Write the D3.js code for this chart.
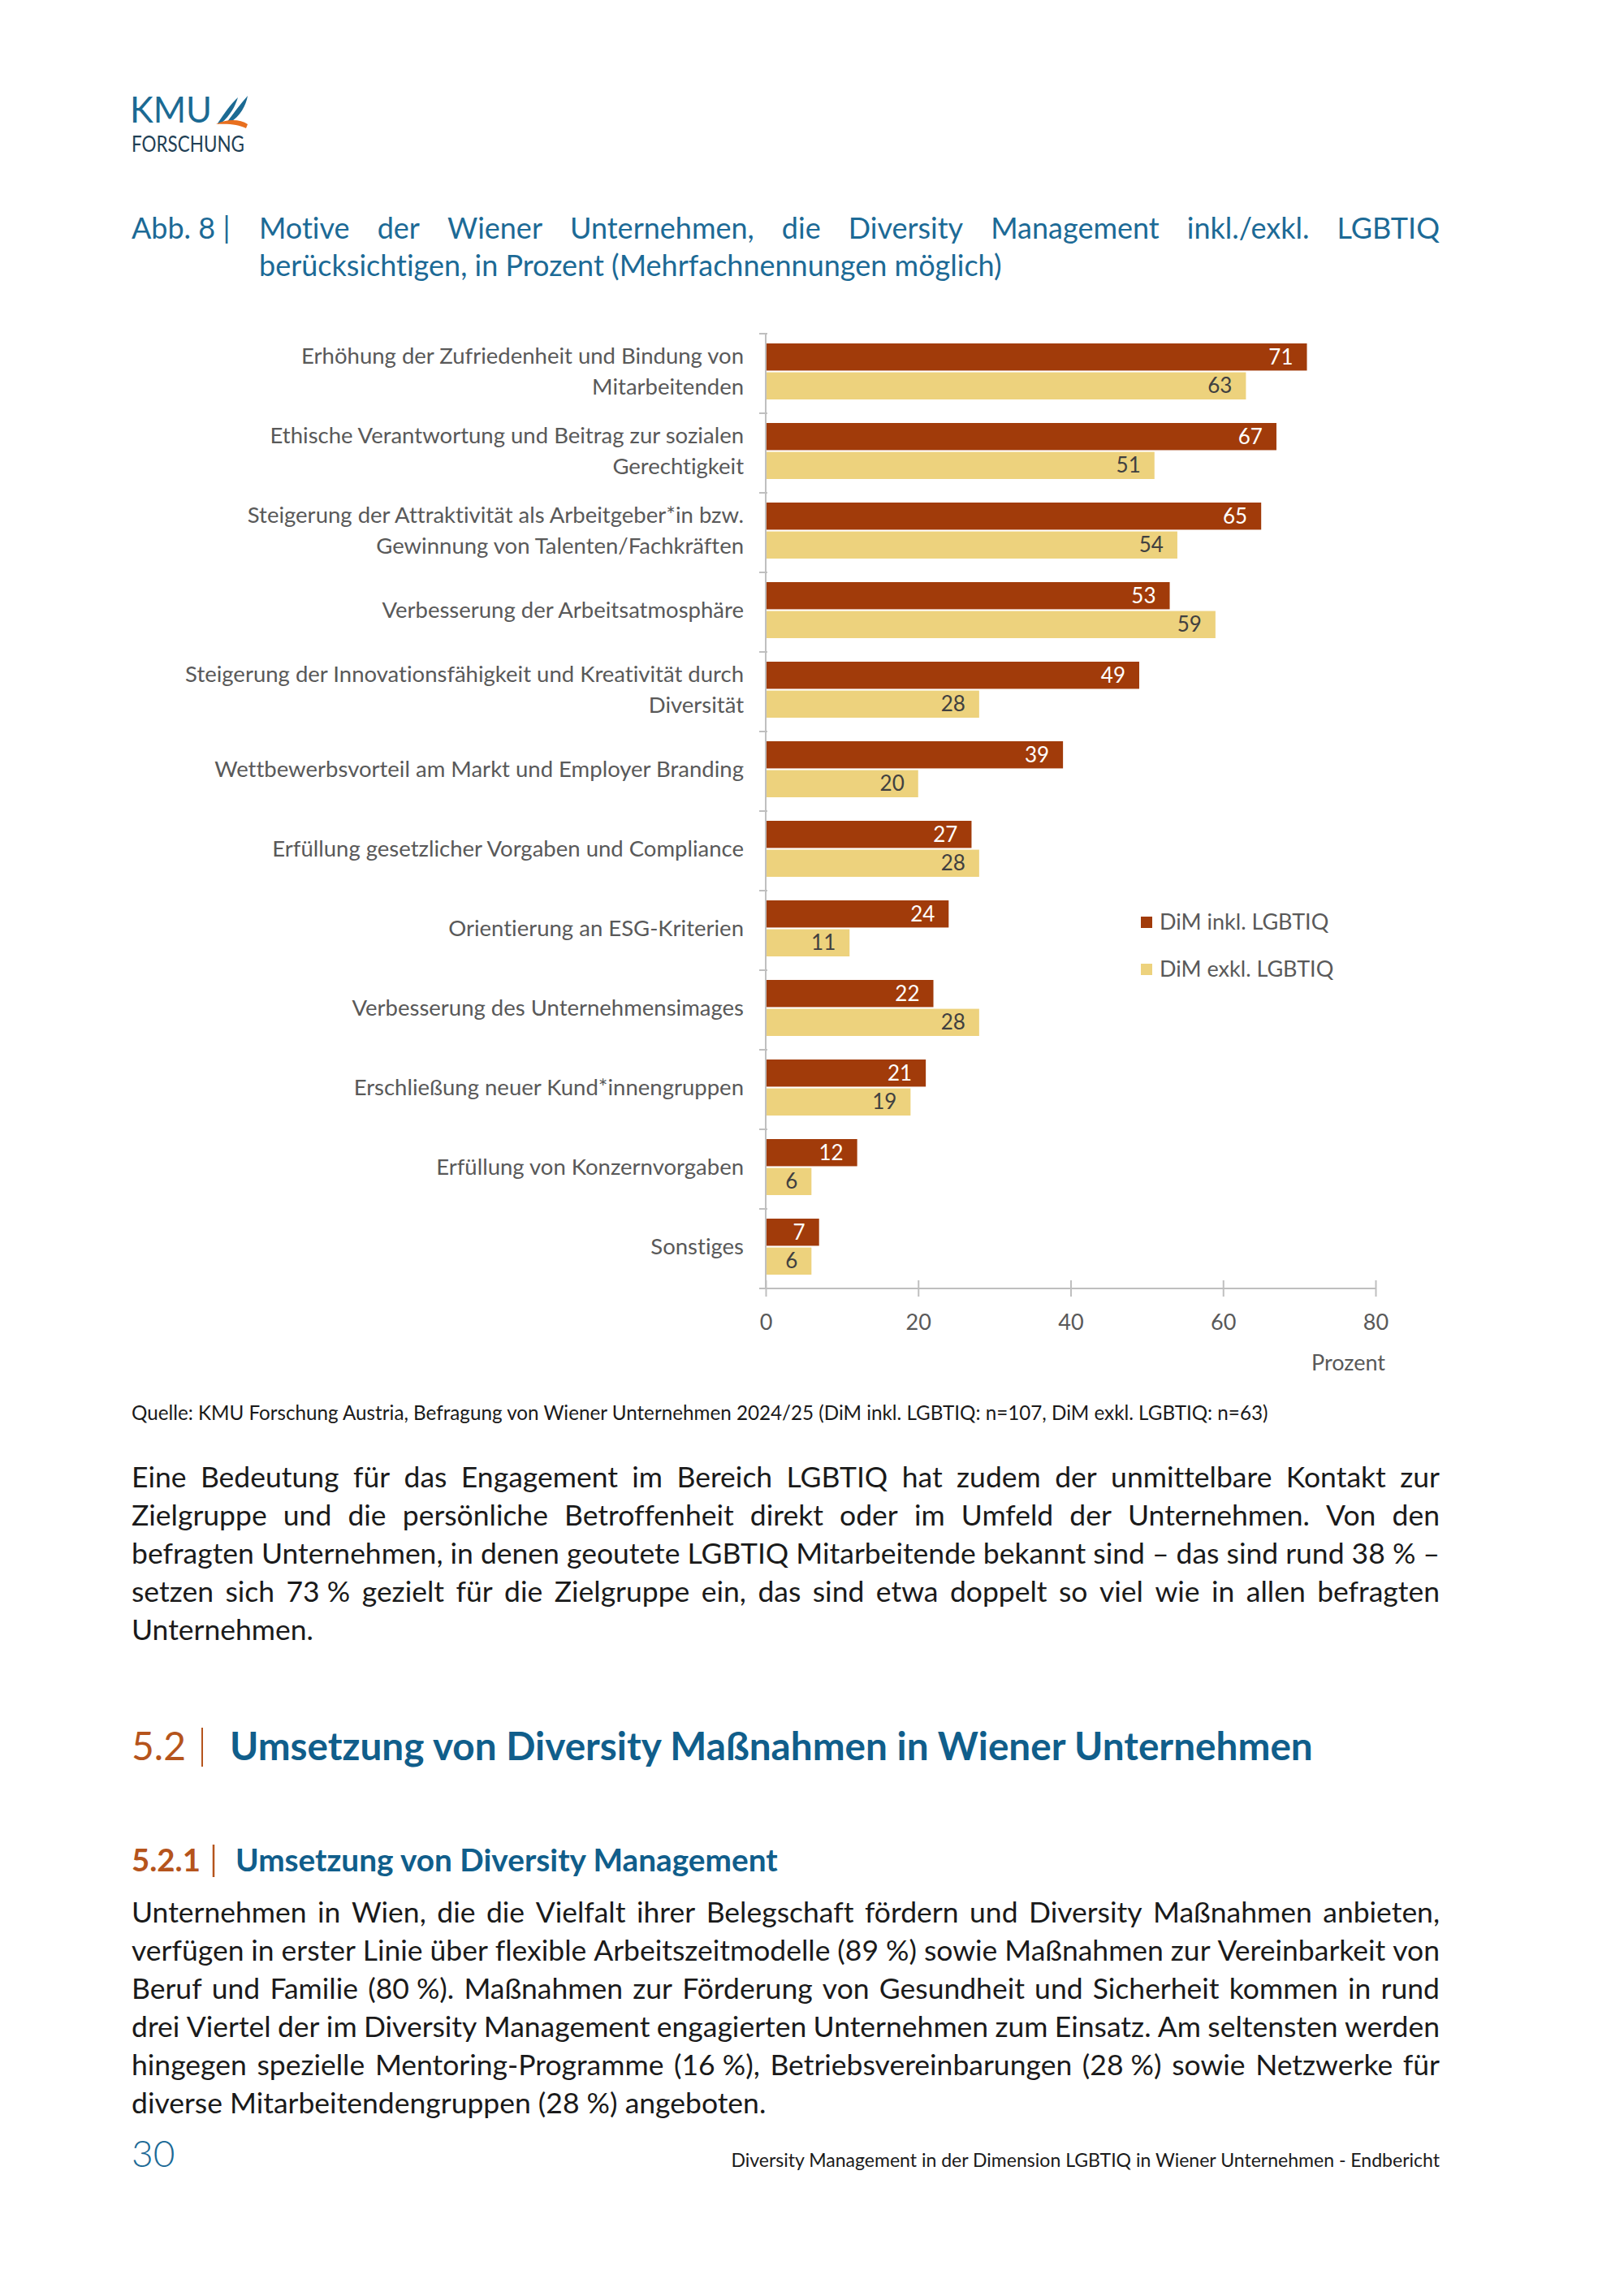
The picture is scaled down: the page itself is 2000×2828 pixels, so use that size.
<!DOCTYPE html>
<html><head><meta charset="utf-8">
<script src="https://cdn.jsdelivr.net/npm/d3@7"></script>
<style>body{margin:0;background:#fff}svg{display:block}text{font-variant-ligatures:none}</style>
</head><body>
<svg id="c" width="2000" height="2828"></svg>
<script>
// ---------- DATA ----------
const categories = [
  "Erhöhung der Zufriedenheit und Bindung von|Mitarbeitenden",
  "Ethische Verantwortung und Beitrag zur sozialen|Gerechtigkeit",
  "Steigerung der Attraktivität als Arbeitgeber*in bzw.|Gewinnung von Talenten/Fachkräften",
  "Verbesserung der Arbeitsatmosphäre",
  "Steigerung der Innovationsfähigkeit und Kreativität durch|Diversität",
  "Wettbewerbsvorteil am Markt und Employer Branding",
  "Erfüllung gesetzlicher Vorgaben und Compliance",
  "Orientierung an ESG-Kriterien",
  "Verbesserung des Unternehmensimages",
  "Erschließung neuer Kund*innengruppen",
  "Erfüllung von Konzernvorgaben",
  "Sonstiges"
];
const inklValues = [71, 67, 65, 53, 49, 39, 27, 24, 22, 21, 12, 7];
const exklValues = [63, 51, 54, 59, 28, 20, 28, 11, 28, 19, 6, 6];
const seriesNames = ["DiM inkl. LGBTIQ", "DiM exkl. LGBTIQ"];
const xTicks = [0, 20, 40, 60, 80];
const axisTitle = "Prozent";

const titleLine1 = "Motive der Wiener Unternehmen, die Diversity Management inkl./exkl. LGBTIQ";
const titleLine2 = "berücksichtigen, in Prozent (Mehrfachnennungen möglich)";
const sourceText = "Quelle: KMU Forschung Austria, Befragung von Wiener Unternehmen 2024/25 (DiM inkl. LGBTIQ: n=107, DiM exkl. LGBTIQ: n=63)";
const para1 = [
  "Eine Bedeutung für das Engagement im Bereich LGBTIQ hat zudem der unmittelbare Kontakt zur",
  "Zielgruppe und die persönliche Betroffenheit direkt oder im Umfeld der Unternehmen. Von den",
  "befragten Unternehmen, in denen geoutete LGBTIQ Mitarbeitende bekannt sind – das sind rund 38\u00A0% –",
  "setzen sich 73\u00A0% gezielt für die Zielgruppe ein, das sind etwa doppelt so viel wie in allen befragten",
  "Unternehmen."
];
const para2 = [
  "Unternehmen in Wien, die die Vielfalt ihrer Belegschaft fördern und Diversity Maßnahmen anbieten,",
  "verfügen in erster Linie über flexible Arbeitszeitmodelle (89\u00A0%) sowie Maßnahmen zur Vereinbarkeit von",
  "Beruf und Familie (80\u00A0%). Maßnahmen zur Förderung von Gesundheit und Sicherheit kommen in rund",
  "drei Viertel der im Diversity Management engagierten Unternehmen zum Einsatz. Am seltensten werden",
  "hingegen spezielle Mentoring-Programme (16\u00A0%), Betriebsvereinbarungen (28\u00A0%) sowie Netzwerke für",
  "diverse Mitarbeitendengruppen (28\u00A0%) angeboten."
];

// ---------- STYLE ----------
const FONT = "Lato, 'Open Sans', sans-serif";
const RED = "#A13B0A", YELLOW = "#EDD27D";
const TEAL = "#1C6A96", DARKTEAL = "#105E8B", ORANGE = "#B5541C";
const GRAY = "#595959", AXIS = "#BFBFBF", TEXT = "#1a1a1a";
const L = 162, R = 1773;

const svg = d3.select("#c");
svg.append("rect").attr("width", 2000).attr("height", 2828).attr("fill", "#fff");

function fitText(sel, width) {
  const w = sel.node().getComputedTextLength();
  const fs = parseFloat(sel.attr("font-size"));
  sel.attr("font-size", fs * width / w);
}
function measure(word, fs) {
  const t = svg.append("text").attr("font-family", FONT).attr("font-size", fs).text(word);
  const w = t.node().getComputedTextLength();
  t.remove();
  return w;
}
function justifyLine(g, text, x0, x1, y, fs, fill, justify) {
  const t = g.append("text").attr("y", y).attr("font-family", FONT)
    .attr("font-size", fs).attr("fill", fill);
  if (!justify) { t.attr("x", x0).text(text); return t; }
  const words = text.split(" ");
  const widths = words.map(w => measure(w, fs));
  const total = d3.sum(widths);
  const gap = (x1 - x0 - total) / (words.length - 1);
  if (gap < fs * 0.18) {
    t.attr("x", x0).text(text).attr("textLength", x1 - x0).attr("lengthAdjust", "spacingAndGlyphs");
    return t;
  }
  let x = x0;
  words.forEach((w, i) => {
    t.append("tspan").attr("x", x).text(i < words.length - 1 ? w + " " : w);
    x += widths[i] + gap;
  });
  return t;
}

// ---------- LOGO ----------
const logo = svg.append("g");
logo.append("text").attr("x", 160).attr("y", 151).attr("font-family", FONT)
  .attr("font-size", 45).attr("fill", "#1B6A93")
  .attr("textLength", 101).attr("lengthAdjust", "spacingAndGlyphs").text("KMU");
logo.append("path").attr("fill", "#1B6A93")
  .attr("d", "M268,152 C276,140 284,128 293,120 C290,130 284,142 272,152 Z");
logo.append("path").attr("fill", "#1B6A93")
  .attr("d", "M279,151 C288,139 296,128 305,118 C303,130 296,143 283,151 Z");
logo.append("path").attr("fill", "#E86F1E")
  .attr("d", "M266,153 C280,146 296,147 305,153 L303,158 C294,153 280,152 266,153 Z");
logo.append("text").attr("x", 162).attr("y", 187).attr("font-family", FONT)
  .attr("font-size", 26).attr("fill", "#1F3F55")
  .attr("textLength", 139).attr("lengthAdjust", "spacingAndGlyphs").text("FORSCHUNG");

// ---------- TITLE ----------
const tg = svg.append("g");
tg.append("text").attr("x", L).attr("y", 294).attr("font-family", FONT)
  .attr("font-size", 36).attr("fill", TEAL).text("Abb. 8 |");
justifyLine(tg, titleLine1, 319, R, 294, 36, TEAL, true);
justifyLine(tg, titleLine2, 319, R, 340, 36, TEAL, false);

// ---------- CHART ----------
const x0 = 943, x1 = 1694, yTop = 411, yBot = 1587;
const x = d3.scaleLinear().domain([0, 80]).range([x0, x1]);
const y = d3.scaleBand().domain(d3.range(categories.length)).range([yTop, yBot]);
const ys = d3.scaleBand().domain([0, 1]).range([12, 81]).paddingInner(0.06);
const series = [inklValues, exklValues];
const colors = [RED, YELLOW];
const labelColors = ["#ffffff", "#404040"];

const chart = svg.append("g");

series.forEach((vals, si) => {
  chart.append("g").selectAll("rect").data(vals).join("rect")
    .attr("x", x(0)).attr("y", (d, i) => y(i) + ys(si))
    .attr("width", d => x(d) - x(0)).attr("height", ys.bandwidth())
    .attr("fill", colors[si]);
  chart.append("g").selectAll("text").data(vals).join("text")
    .attr("x", d => x(d) - 17).attr("y", (d, i) => y(i) + ys(si) + ys.bandwidth() / 2 + 9)
    .attr("text-anchor", "end").attr("font-family", FONT).attr("font-size", 26)
    .attr("fill", labelColors[si]).text(d => d);
});

const yAxisG = chart.append("g");
yAxisG.append("line").attr("x1", x0).attr("x2", x0).attr("y1", yTop).attr("y2", yBot)
  .attr("stroke", AXIS).attr("stroke-width", 2);
const bounds = d3.range(categories.length + 1).map(i => yTop + i * y.step());
yAxisG.selectAll("line.t").data(bounds).join("line").attr("class", "t")
  .attr("x1", x0 - 8).attr("x2", x0 + 2).attr("y1", d => d).attr("y2", d => d)
  .attr("stroke", AXIS).attr("stroke-width", 2);

const catG = chart.append("g");
categories.forEach((c, i) => {
  const lines = c.split("|");
  const cy = y(i) + y.bandwidth() / 2 - 2;
  const lh = 38;
  const start = cy - (lines.length - 1) * lh / 2;
  lines.forEach((ln, j) => {
    catG.append("text").attr("x", 916).attr("y", start + j * lh + 9)
      .attr("text-anchor", "end").attr("font-family", FONT).attr("font-size", 27.5)
      .attr("fill", GRAY).text(ln);
  });
});

const xAxis = d3.axisBottom(x).tickValues(xTicks).tickSize(10).tickPadding(22);
const xg = chart.append("g").attr("transform", `translate(0,${yBot})`).call(xAxis);
xg.select(".domain").attr("stroke", AXIS).attr("stroke-width", 2)
  .attr("d", `M${x0 - 8},0H${x1}`);
xg.selectAll(".tick line").attr("stroke", AXIS).attr("stroke-width", 2).attr("y1", -10).attr("y2", 10);
xg.selectAll(".tick text").attr("font-family", FONT).attr("font-size", 27).attr("fill", GRAY);
chart.append("text").attr("x", 1706).attr("y", 1688).attr("text-anchor", "end")
  .attr("font-family", FONT).attr("font-size", 27).attr("fill", GRAY).text(axisTitle);

const leg = chart.append("g");
seriesNames.forEach((n, i) => {
  const ly = 1136 + i * 58;
  leg.append("rect").attr("x", 1405).attr("y", ly - 7).attr("width", 14).attr("height", 14).attr("fill", colors[i]);
  leg.append("text").attr("x", 1428).attr("y", ly + 9).attr("font-family", FONT)
    .attr("font-size", 27).attr("fill", GRAY).text(n);
});

// ---------- SOURCE ----------
const src = svg.append("text").attr("x", L).attr("y", 1749).attr("font-family", FONT)
  .attr("font-size", 22).attr("fill", TEXT).text(sourceText);
fitText(src, 1400);

// ---------- PARAGRAPHS ----------
const pg = svg.append("g");
para1.forEach((ln, i) => justifyLine(pg, ln, L, R, 1832 + i * 47, 35.5, TEXT, i < para1.length - 1));
para2.forEach((ln, i) => justifyLine(pg, ln, L, R, 2368 + i * 47, 35.5, TEXT, i < para2.length - 1));

// ---------- HEADINGS ----------
const hg = svg.append("g");
const h1n = hg.append("text").attr("x", L).attr("y", 2168).attr("font-family", FONT)
  .attr("font-size", 46).attr("fill", ORANGE).text("5.2");
fitText(h1n, 67);
hg.append("line").attr("x1", 249).attr("x2", 249).attr("y1", 2128).attr("y2", 2176)
  .attr("stroke", ORANGE).attr("stroke-width", 2);
const h1 = hg.append("text").attr("x", 283).attr("y", 2168).attr("font-family", FONT)
  .attr("font-size", 46).attr("font-weight", 700).attr("fill", DARKTEAL)
  .text("Umsetzung von Diversity Maßnahmen in Wiener Unternehmen");
fitText(h1, 1334);

const h2n = hg.append("text").attr("x", L).attr("y", 2305).attr("font-family", FONT)
  .attr("font-size", 38).attr("font-weight", 700).attr("fill", ORANGE).text("5.2.1");
fitText(h2n, 85);
hg.append("line").attr("x1", 263).attr("x2", 263).attr("y1", 2272).attr("y2", 2312)
  .attr("stroke", ORANGE).attr("stroke-width", 2.5);
const h2 = hg.append("text").attr("x", 290).attr("y", 2305).attr("font-family", FONT)
  .attr("font-size", 38).attr("font-weight", 700).attr("fill", DARKTEAL)
  .text("Umsetzung von Diversity Management");
fitText(h2, 668);

// ---------- FOOTER ----------
svg.append("text").attr("x", L).attr("y", 2669).attr("font-family", FONT)
  .attr("font-size", 46).attr("font-weight", 300).attr("fill", TEAL).text("30");
const ft = svg.append("text").attr("x", R).attr("y", 2669).attr("text-anchor", "end")
  .attr("font-family", FONT).attr("font-size", 23).attr("fill", TEXT)
  .text("Diversity Management in der Dimension LGBTIQ in Wiener Unternehmen - Endbericht");
fitText(ft, 873);
</script>
</body></html>
